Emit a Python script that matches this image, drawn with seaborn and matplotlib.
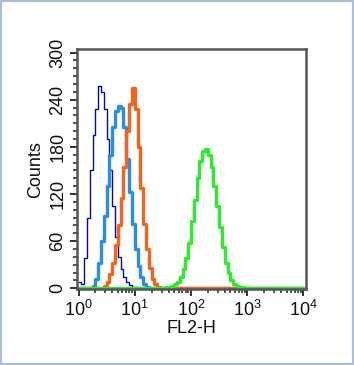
import numpy as np
import seaborn as sns
import matplotlib
matplotlib.use("Agg")
import matplotlib.pyplot as plt
from matplotlib.patches import Rectangle
from matplotlib.ticker import MultipleLocator, LogLocator

# FL2-H histogram, 20 bins per decade from 10^0 to 10^4
bin_width = 0.05
n_bins = 80

# counts per bin, each list starts at the given bin index
navy_start = 0
navy_counts = [8, 5, 38, 90, 150, 195, 228, 258, 250, 228, 190, 150, 105, 65,
               40, 24, 14, 8, 4, 2, 1]
blue_start = 5
blue_counts = [3, 12, 32, 60, 92, 130, 170, 205, 226, 232, 230, 205, 165, 122,
               82, 50, 28, 14, 5, 1]
orange_start = 9
orange_counts = [3, 8, 18, 32, 55, 80, 115, 155, 200, 235, 255, 228, 180, 128,
                 82, 50, 26, 12, 5, 2]
green_start = 31
green_counts = [1, 2, 3, 5, 8, 14, 24, 38, 58, 85, 112, 140, 162, 175, 177, 170,
                155, 130, 105, 78, 52, 32, 20, 10, 5, 3, 2, 1]

series = [
    ("navy", navy_start, navy_counts, "#0a0a9c", 1.0),
    ("blue", blue_start, blue_counts, "#2a8de6", 2.4),
    ("orange", orange_start, orange_counts, "#f5641a", 2.4),
    ("green", green_start, green_counts, "#2cec2c", 2.4),
]

sns.set_style("ticks")
plt.rcParams["font.family"] = ["Liberation Sans", "DejaVu Sans"]
plt.rcParams["mathtext.fontset"] = "custom"
plt.rcParams["mathtext.rm"] = "Liberation Sans"

fig = plt.figure(figsize=(3.54, 3.65), dpi=100)
ax = fig.add_axes([0.2189, 0.2082, 0.6441, 0.6562])

for name, start, counts, color, lw in series:
    full = np.zeros(n_bins)
    full[start:start + len(counts)] = counts
    centers = 10 ** (bin_width * (np.arange(n_bins) + 0.5))
    sns.histplot(x=centers, weights=full, binwidth=bin_width, binrange=(0, 4),
                 log_scale=True, element="step", fill=False, color=color,
                 linewidth=lw, ax=ax)

ax.set_xlim(10 ** -0.018, 10 ** 4.036)
ax.set_ylim(-1, 304)
ax.set_yticks(range(0, 301, 60))
ax.yaxis.set_minor_locator(MultipleLocator(10))
ax.xaxis.set_major_locator(LogLocator(base=10, numticks=10))
ax.xaxis.set_minor_locator(LogLocator(base=10, subs=np.arange(2, 10), numticks=20))

edge = "#555555"
for s in ax.spines.values():
    s.set_color(edge)
    s.set_linewidth(1.8)
ax.tick_params(which="major", direction="out", length=5, width=1.3, color="#222222",
               labelsize=13, pad=3, labelcolor="#111111")
ax.tick_params(which="minor", direction="out", length=3, width=1.1, color="#222222")
ax.tick_params(axis="y", labelrotation=90)
for lab in ax.get_yticklabels():
    lab.set_va("center")

ax.set_xlabel("FL2-H", fontsize=13, labelpad=0, color="#111111")
ax.set_ylabel("Counts", fontsize=13, labelpad=4, color="#111111")

fig.patches.append(Rectangle((0, 0), 1, 1, transform=fig.transFigure, fill=False,
                             edgecolor="#a9bfd8", linewidth=3))

fig.savefig("out.png", dpi=100)
